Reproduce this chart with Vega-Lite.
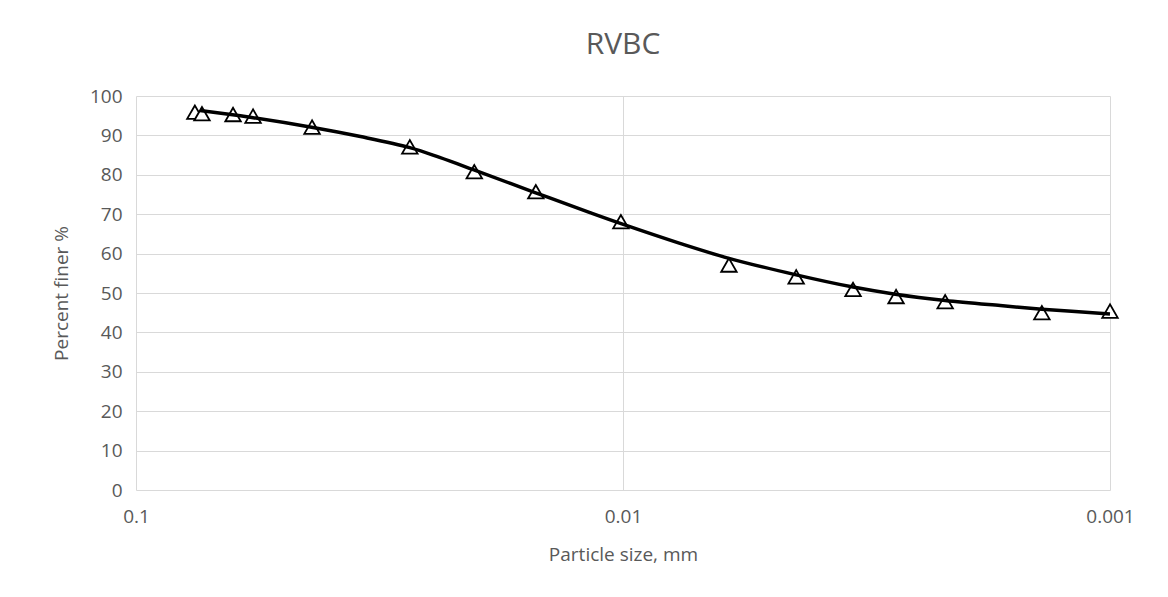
{
  "$schema": "https://vega.github.io/schema/vega-lite/v6.json",
  "autosize": {"type": "none"},
  "width": 974,
  "height": 394,
  "padding": {"left": 136, "top": 96, "right": 58, "bottom": 107},
  "background": "white",
  "config": {
    "font": "Open Sans",
    "view": {"stroke": null},
    "axis": {
      "gridColor": "#d9d9d9",
      "gridWidth": 1,
      "domain": false,
      "ticks": false,
      "labelColor": "#595959",
      "labelFontSize": 19,
      "titleColor": "#595959",
      "titleFontSize": 19,
      "titleFontWeight": "normal",
      "labelFont": "Open Sans",
      "titleFont": "Open Sans"
    }
  },
  "title": {
    "text": "RVBC",
    "fontSize": 30,
    "fontWeight": "normal",
    "color": "#595959",
    "font": "Open Sans",
    "offset": 27
  },
  "datasets": {
    "points": [
      {"size": 0.0757, "finer": 95.9},
      {"size": 0.0732, "finer": 95.5},
      {"size": 0.0632, "finer": 95.3},
      {"size": 0.0575, "finer": 94.9},
      {"size": 0.0435, "finer": 92.1},
      {"size": 0.0274, "finer": 87.1},
      {"size": 0.0202, "finer": 80.8},
      {"size": 0.0151, "finer": 75.7},
      {"size": 0.0101, "finer": 68.1},
      {"size": 0.00606, "finer": 57.1},
      {"size": 0.00441, "finer": 54.1},
      {"size": 0.00337, "finer": 50.9},
      {"size": 0.00275, "finer": 49.1},
      {"size": 0.00218, "finer": 47.8},
      {"size": 0.00138, "finer": 45.0},
      {"size": 0.001, "finer": 45.4}
    ],
    "curve": [
      {"size": 0.0739, "finer": 96.3},
      {"size": 0.0583, "finer": 94.6},
      {"size": 0.0433, "finer": 92.0},
      {"size": 0.0346, "finer": 89.7},
      {"size": 0.0274, "finer": 86.9},
      {"size": 0.0238, "finer": 84.4},
      {"size": 0.0203, "finer": 81.3},
      {"size": 0.01516, "finer": 75.5},
      {"size": 0.01169, "finer": 70.4},
      {"size": 0.01009, "finer": 67.6},
      {"size": 0.00764, "finer": 62.6},
      {"size": 0.00606, "finer": 58.8},
      {"size": 0.00441, "finer": 54.6},
      {"size": 0.00337, "finer": 51.5},
      {"size": 0.00276, "finer": 49.7},
      {"size": 0.00218, "finer": 48.1},
      {"size": 0.00168, "finer": 46.8},
      {"size": 0.00138, "finer": 45.9},
      {"size": 0.001, "finer": 44.7}
    ]
  },
  "encoding": {
    "x": {
      "field": "size",
      "type": "quantitative",
      "scale": {"type": "log", "domain": [0.001, 0.1], "reverse": true, "nice": false},
      "axis": {
        "values": [0.1, 0.01, 0.001],
        "format": "~g",
        "title": "Particle size, mm",
        "labelPadding": 17,
        "titlePadding": 19,
        "labelFlush": false
      }
    },
    "y": {
      "field": "finer",
      "type": "quantitative",
      "scale": {"domain": [0, 100], "nice": false},
      "axis": {
        "values": [0, 10, 20, 30, 40, 50, 60, 70, 80, 90, 100],
        "title": "Percent finer %",
        "labelPadding": 14,
        "titlePadding": 18
      }
    }
  },
  "layer": [
    {
      "data": {"name": "points"},
      "mark": {"type": "point", "shape": "triangle-up", "filled": true, "fill": "white", "stroke": "black", "strokeWidth": 1.8, "size": 240, "opacity": 1}
    },
    {
      "data": {"name": "curve"},
      "mark": {"type": "line", "interpolate": "catmull-rom", "color": "black", "strokeWidth": 3.5}
    }
  ]
}
